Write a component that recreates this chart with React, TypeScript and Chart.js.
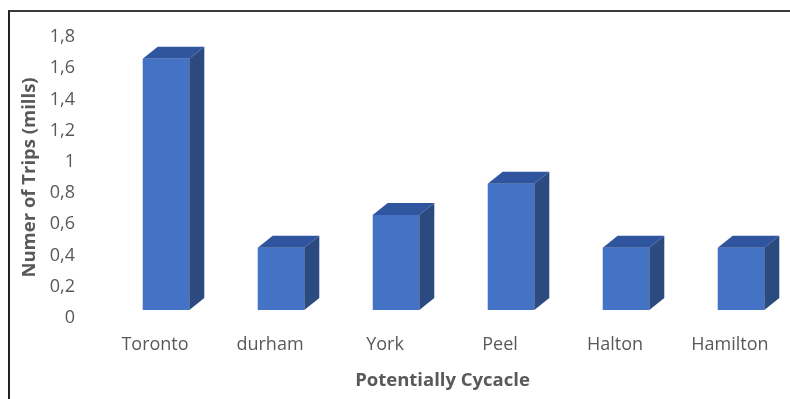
import React, { useEffect, useRef } from "react";
import { Chart, registerables } from "chart.js";

Chart.register(...registerables);

const categories = ["Toronto", "durham", "York", "Peel", "Halton", "Hamilton"];
const trips = [1.66, 0.45, 0.66, 0.86, 0.45, 0.45];
const yMin = 0;
const yMax = 1.8;
const yStep = 0.2;
const xTitle = "Potentially Cycacle";
const yTitle = "Numer of Trips (mills)";

const FRONT = "#4472C4";
const TOP = "#2F559E";
const SIDE = "#2B4A80";
const TEXT = "#595959";
const FONT = "'Open Sans', 'DejaVu Sans', sans-serif";

// 3D projection constants (style)
const SHIFT = 11;
const FLOOR = 8;
const DX = 15;
const DY = 12;

const box3d = {
  id: "box3d",
  afterDatasetsDraw(chart: any) {
    const ctx = chart.ctx;
    const meta = chart.getDatasetMeta(0);
    ctx.save();
    meta.data.forEach((el: any) => {
      const { x, y, base, width } = el.getProps(["x", "y", "base", "width"], true);
      const left = x - width / 2 + SHIFT;
      const right = left + width;
      const top = y;
      const bottom = base - FLOOR;
      ctx.fillStyle = FRONT;
      ctx.fillRect(left, top, width, bottom - top);
      ctx.fillStyle = TOP;
      ctx.beginPath();
      ctx.moveTo(left, top);
      ctx.lineTo(left + DX, top - DY);
      ctx.lineTo(right + DX, top - DY);
      ctx.lineTo(right, top);
      ctx.closePath();
      ctx.fill();
      ctx.fillStyle = SIDE;
      ctx.beginPath();
      ctx.moveTo(right, top);
      ctx.lineTo(right + DX, top - DY);
      ctx.lineTo(right + DX, bottom - DY);
      ctx.lineTo(right, bottom);
      ctx.closePath();
      ctx.fill();
    });
    ctx.restore();
  },
};

export default function App() {
  const ref = useRef<HTMLCanvasElement | null>(null);

  useEffect(() => {
    if (!ref.current) return;
    const chart = new Chart(ref.current, {
      type: "bar",
      data: {
        labels: categories,
        datasets: [
          {
            data: trips,
            backgroundColor: "rgba(0,0,0,0)",
            borderWidth: 0,
            categoryPercentage: 1,
            barPercentage: 0.405,
          },
        ],
      },
      options: {
        responsive: false,
        animation: false,
        devicePixelRatio: 1,
        layout: { padding: { top: 37, left: 0, right: 2.5, bottom: 0 } },
        plugins: {
          legend: { display: false },
          tooltip: { enabled: false },
        },
        scales: {
          x: {
            grid: { display: false, drawTicks: false },
            border: { display: false },
            ticks: {
              color: TEXT,
              font: { family: FONT, size: 18 },
              padding: 16,
              maxRotation: 0,
            },
            title: {
              display: true,
              text: xTitle,
              color: TEXT,
              font: { family: FONT, size: 18.5, weight: "bold" },
              padding: { top: 4, bottom: 7 },
            },
            afterFit: (s: any) => {
              s.height = 81;
            },
          },
          y: {
            min: yMin,
            max: yMax,
            grid: { display: false, drawTicks: false },
            border: { display: false },
            ticks: {
              stepSize: yStep,
              color: TEXT,
              font: { family: FONT, size: 18 },
              padding: 22.5,
              callback: (v: any) => String(Math.round(Number(v) * 10) / 10).replace(".", ","),
            },
            title: {
              display: true,
              text: yTitle,
              color: TEXT,
              font: { family: FONT, size: 18.5, weight: "bold" },
              padding: { top: 19, bottom: 4 },
            },
            afterFit: (s: any) => {
              s.width = 97.5;
            },
          },
        },
      },
      plugins: [box3d],
    });
    return () => chart.destroy();
  }, []);

  return (
    <div
      style={{
        position: "fixed",
        left: 0,
        top: 0,
        width: 790,
        height: 399,
        background: "#fff",
        overflow: "hidden",
      }}
    >
      <div
        style={{
          position: "absolute",
          left: 8,
          top: 10,
          width: 820,
          height: 420,
          borderLeft: "2px solid #222",
          borderTop: "2px solid #3a3a3a",
        }}
      />
      <canvas
        ref={ref}
        width={790}
        height={399}
        style={{ position: "absolute", left: 0, top: 0, width: 790, height: 399 }}
      />
    </div>
  );
}
